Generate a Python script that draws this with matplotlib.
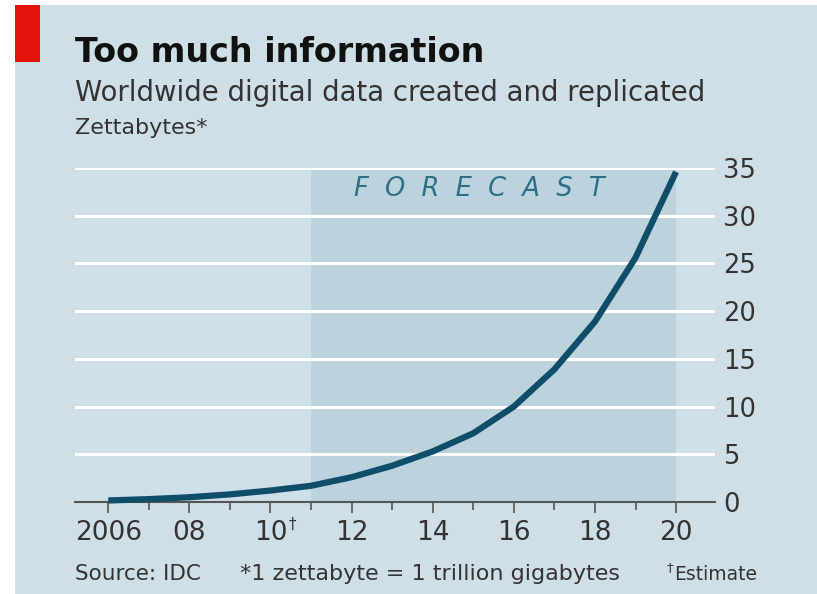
import numpy as np
import matplotlib
matplotlib.use("Agg")
import matplotlib.pyplot as plt
from matplotlib.patches import Rectangle
from matplotlib.ticker import MultipleLocator

# data (zettabytes)
years = [2006, 2007, 2008, 2009, 2010, 2011, 2012, 2013,
         2014, 2015, 2016, 2017, 2018, 2019, 2020]
zettabytes = [0.16, 0.3, 0.5, 0.8, 1.2, 1.7, 2.6, 3.8,
              5.3, 7.2, 10.0, 13.9, 18.9, 25.6, 34.6]
year_ticks = [2006, 2008, 2010, 2012, 2014, 2016, 2018, 2020]
year_labels = ['2006', '08', '10', '12', '14', '16', '18', '20']
value_ticks = [0, 5, 10, 15, 20, 25, 30, 35]
forecast_start, forecast_end = 2011, 2020

plt.rcParams['font.family'] = ['DejaVu Sans']

BG = '#cfdfe7'
SHADE = '#bcd3de'
LINE = '#0e4e69'
TXT = '#333333'

def fy(px):
    return 1 - px / 594

def fx(px):
    return px / 817

fig = plt.figure(figsize=(8.17, 5.94), dpi=100)
fig.patch.set_facecolor('white')
# light blue panel with a white margin top/left
fig.patches.append(Rectangle((fx(15), 0), 1, fy(5), transform=fig.transFigure,
                             facecolor=BG, edgecolor='none', zorder=-10))
# red tag
fig.patches.append(Rectangle((fx(15), fy(62)), fx(25), 57/594, transform=fig.transFigure,
                             facecolor='#e3120b', edgecolor='none', zorder=-5))

ax = fig.add_axes([fx(75), fy(502), fx(640), 334/594])
ax.set_facecolor('none')
ax.set_xlim(2005.18, 2020.96)
ax.set_ylim(0, 35)

ax.axvspan(forecast_start, forecast_end, color=SHADE, lw=0, zorder=0)
for v in value_ticks[1:]:
    ax.axhline(v, color='white', lw=2.2, zorder=1)
ax.plot(years, zettabytes, color=LINE, lw=4.5, solid_capstyle='butt', zorder=3, clip_on=False)

ax.text(2015.15, 32.8, '  '.join('FORECAST'), ha='center', va='center', style='italic',
        fontsize=18.5, color='#2e6f85', zorder=2)

for s in ['top', 'left', 'right']:
    ax.spines[s].set_visible(False)
ax.spines['bottom'].set_color('#555555')
ax.spines['bottom'].set_linewidth(1.5)
ax.spines['bottom'].set_zorder(2)

ax.set_xticks(year_ticks)
ax.set_xticklabels(year_labels)
ax.xaxis.set_minor_locator(MultipleLocator(1))
ax.tick_params(axis='x', which='major', length=8, width=1.2, color='#555555',
               labelsize=19, labelcolor=TXT, pad=5)
ax.tick_params(axis='x', which='minor', length=6, width=1.2, color='#555555')
ax.text(2010.44, -2.3, '\u2020', fontsize=11, color=TXT, ha='left', va='center', clip_on=False)

ax.yaxis.tick_right()
ax.set_yticks(value_ticks)
ax.tick_params(axis='y', length=0, labelsize=18.5, labelcolor=TXT, pad=6)

fig.text(fx(75), fy(62), 'Too much information', fontsize=24, fontweight='bold',
         color='#111111', va='baseline')
fig.text(fx(75), fy(101), 'Worldwide digital data created and replicated', fontsize=19.8,
         color=TXT, va='baseline')
fig.text(fx(75), fy(134), 'Zettabytes*', fontsize=16, color=TXT, va='baseline')

fig.text(fx(75), fy(580), 'Source: IDC', fontsize=15.5, color=TXT, va='baseline')
fig.text(fx(240), fy(580), '*1 zettabyte = 1 trillion gigabytes', fontsize=16,
         color=TXT, va='baseline')
fig.text(fx(673), fy(571), '\u2020', fontsize=9.5, color=TXT, va='baseline', ha='right')
fig.text(fx(757), fy(580), 'Estimate', fontsize=13.5, color=TXT, va='baseline', ha='right')

fig.savefig('out.png', dpi=100, facecolor=fig.get_facecolor())
